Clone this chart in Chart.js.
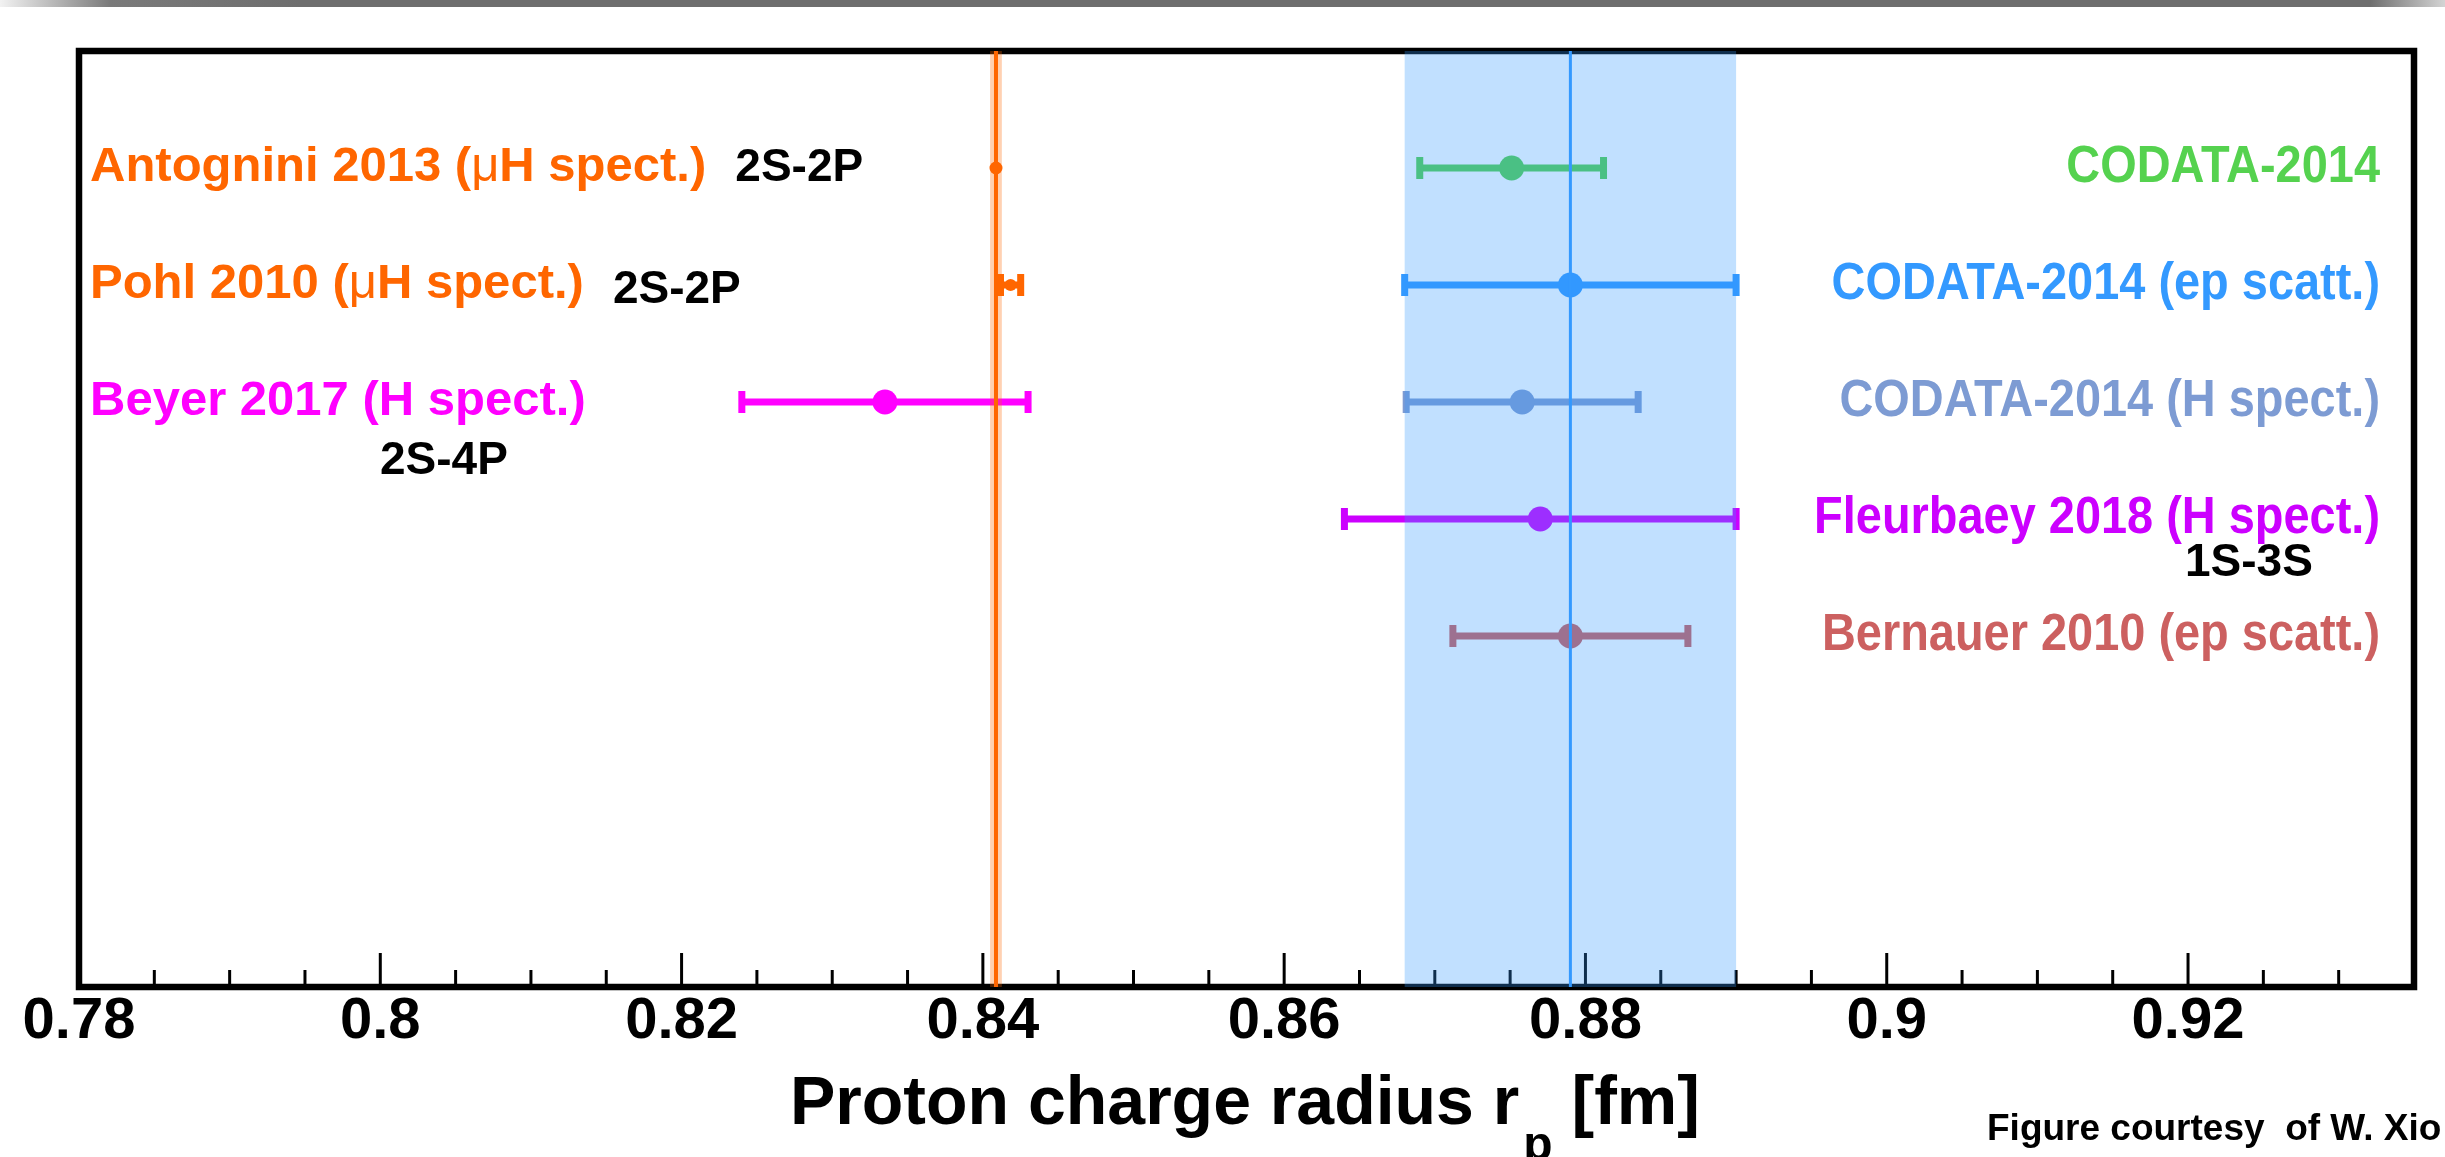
<!DOCTYPE html>
<html><head><meta charset="utf-8">
<script src="https://cdn.jsdelivr.net/npm/chart.js@4.4.1/dist/chart.umd.min.js"></script>
<style>
html,body{margin:0;padding:0;background:#fff;overflow:hidden;}
#wrap{position:relative;width:2445px;height:1157px;}
#topbar{position:absolute;left:0;top:0;width:2445px;height:7px;background:linear-gradient(to right,#f2f2f2 0px,#7a7a7a 110px,#6e6e6e 300px,#6e6e6e 2370px,#d4d4d4 2445px);}
canvas{position:absolute;left:0;top:0;}
</style></head><body>
<div id="wrap"><canvas id="c" width="2445" height="1157"></canvas><div id="topbar"></div></div>
<script>
const FONT = '"Liberation Sans", Arial, Helvetica, sans-serif';

// Left side: muonic / H spectroscopy results
const leftNames = ['Antognini 2013 (μH spect.)', 'Pohl 2010 (μH spect.)', 'Beyer 2017 (H spect.)'];
const leftValues = [0.84087, 0.84184, 0.8335];
const leftErrors = [0.00039, 0.00067, 0.0095];
const leftRows = [1, 2, 3];
const leftTransitions = ['2S-2P', '2S-2P', '2S-4P'];
const leftColors = ['#FF6600', '#FF6600', '#FF00FF'];
const leftRadii = [6.5, 6, 12.5];

// Right side: CODATA / scattering / Fleurbaey
const rightNames = ['CODATA-2014', 'CODATA-2014 (ep scatt.)', 'CODATA-2014 (H spect.)', 'Fleurbaey 2018 (H spect.)', 'Bernauer 2010 (ep scatt.)'];
const rightValues = [0.8751, 0.879, 0.8758, 0.877, 0.879];
const rightErrors = [0.0061, 0.011, 0.0077, 0.013, 0.0078];
const rightRows = [1, 2, 3, 4, 5];
const rightTransitions = ['', '', '', '1S-3S', ''];
const rightColors = ['#55D24F', '#3399FF', '#7D9BD3', '#CC00FF', '#CC6060'];
const rightRadii = [12.5, 12.5, 12.5, 12.5, 12.5];

// Reference bands
const muonicBand = [0.84087, 0.00039];
const epBand = [0.879, 0.011];

// Axis ticks
const tickValues = [0.78, 0.80, 0.82, 0.84, 0.86, 0.88, 0.90, 0.92];
const tickLabels = ['0.78', '0.8', '0.82', '0.84', '0.86', '0.88', '0.9', '0.92'];
const minorStep = 0.005;

const errs = [leftErrors, rightErrors];
const cols = [leftColors, rightColors];
const radii = [leftRadii, rightRadii];

const errorBars = {
  id: 'errorBars',
  beforeDatasetsDraw(chart) {
    const ctx = chart.ctx, a = chart.chartArea, xs = chart.scales.x;
    ctx.save();
    // frame
    ctx.strokeStyle = '#000'; ctx.lineWidth = 6.5;
    ctx.strokeRect(a.left, a.top, a.right - a.left, a.bottom - a.top);
    // ticks
    ctx.lineWidth = 3;
    const lo = xs.min, hi = xs.max;
    const n = Math.round((hi - lo) / minorStep);
    for (let k = 1; k <= n; k++) {
      const v = lo + k * minorStep;
      const px = xs.getPixelForValue(v);
      if (px >= a.right - 3) continue;
      const major = tickValues.some(t => Math.abs(t - v) < 1e-6);
      ctx.beginPath();
      ctx.moveTo(px, a.bottom);
      ctx.lineTo(px, a.bottom - (major ? 34 : 17));
      ctx.stroke();
    }
    // error bars
    chart.data.datasets.forEach((ds, i) => {
      const meta = chart.getDatasetMeta(i);
      meta.data.forEach((pt, j) => {
        const v = ds.data[j].x, e = errs[i][j];
        const x0 = xs.getPixelForValue(v - e), x1 = xs.getPixelForValue(v + e);
        const y = pt.y;
        ctx.fillStyle = cols[i][j];
        if ((x1 - x0) / 2 <= radii[i][j] + 1) return;
        ctx.fillRect(x0, y - 3.5, x1 - x0, 7);
        ctx.fillRect(x0 - 3.5, y - 11, 7, 22);
        ctx.fillRect(x1 - 3.5, y - 11, 7, 22);
      });
    });
    ctx.restore();
  },
  afterDatasetsDraw(chart) {
    const ctx = chart.ctx, a = chart.chartArea, xs = chart.scales.x, ys = chart.scales.y;
    ctx.save();
    // bands on top
    const bx0 = xs.getPixelForValue(epBand[0] - epBand[1]);
    const bx1 = xs.getPixelForValue(epBand[0] + epBand[1]);
    ctx.fillStyle = 'rgba(51,153,255,0.3)';
    ctx.fillRect(bx0, a.top, bx1 - bx0, a.bottom - a.top);
    const ox0 = xs.getPixelForValue(muonicBand[0] - muonicBand[1]);
    const ox1 = xs.getPixelForValue(muonicBand[0] + muonicBand[1]);
    ctx.fillStyle = 'rgba(255,102,0,0.3)';
    ctx.fillRect(ox0, a.top, ox1 - ox0, a.bottom - a.top);
    ctx.strokeStyle = '#FF6600'; ctx.lineWidth = 4;
    let px = xs.getPixelForValue(muonicBand[0]);
    ctx.beginPath(); ctx.moveTo(px, a.top); ctx.lineTo(px, a.bottom); ctx.stroke();
    ctx.strokeStyle = '#3399FF'; ctx.lineWidth = 3;
    px = xs.getPixelForValue(epBand[0]);
    ctx.beginPath(); ctx.moveTo(px, a.top); ctx.lineTo(px, a.bottom); ctx.stroke();

    // left labels
    ctx.textBaseline = 'alphabetic';
    ctx.textAlign = 'left';
    leftNames.forEach((name, j) => {
      const y = ys.getPixelForValue(leftRows[j]) + 12.5;
      let x = 90;
      const parts = name.split('μ');
      ctx.fillStyle = leftColors[j];
      ctx.font = 'bold 49px ' + FONT;
      ctx.fillText(parts[0], x, y); x += ctx.measureText(parts[0]).width;
      if (parts.length > 1) {
        ctx.font = '49px ' + FONT;
        ctx.fillText('μ', x, y); x += ctx.measureText('μ').width;
        ctx.font = 'bold 49px ' + FONT;
        ctx.fillText(parts[1], x, y); x += ctx.measureText(parts[1]).width;
      }
      ctx.fillStyle = '#000';
      ctx.font = 'bold 46px ' + FONT;
      if (j < 2) {
        ctx.fillText(leftTransitions[j], x + 29, y + (j === 1 ? 5 : 0));
      } else {
        ctx.fillText(leftTransitions[j], 380, y + 59);
      }
    });
    // right labels (slightly condensed, taller glyphs)
    rightNames.forEach((name, j) => {
      const y = ys.getPixelForValue(rightRows[j]) + 14;
      ctx.save();
      ctx.translate(2380, y);
      ctx.scale(0.92, 1);
      ctx.textAlign = 'right';
      ctx.fillStyle = rightColors[j];
      ctx.font = 'bold 51px ' + FONT;
      ctx.fillText(name, 0, 0);
      ctx.restore();
      if (rightTransitions[j]) {
        ctx.textAlign = 'left';
        ctx.fillStyle = '#000';
        ctx.font = 'bold 46px ' + FONT;
        ctx.fillText(rightTransitions[j], 2185, y + 43);
      }
    });

    // axis title with subscript
    ctx.textAlign = 'left';
    ctx.fillStyle = '#000';
    let tx = 790;
    ctx.font = 'bold 68px ' + FONT;
    const t1 = 'Proton charge radius r';
    ctx.fillText(t1, tx, 1124); tx += ctx.measureText(t1).width + 4;
    ctx.font = 'bold 48px ' + FONT;
    ctx.fillText('p', tx, 1160); tx += ctx.measureText('p').width;
    ctx.font = 'bold 68px ' + FONT;
    ctx.fillText(' [fm]', tx, 1124);

    // credit
    ctx.font = 'bold 37px ' + FONT;
    ctx.fillText('Figure courtesy  of W. Xio', 1987, 1140);
    ctx.restore();
  }
};

const mkData = (vals, rows) => vals.map((v, i) => ({x: v, y: rows[i]}));

new Chart(document.getElementById('c'), {
  type: 'scatter',
  data: {
    datasets: [
      {label: 'left', data: mkData(leftValues, leftRows), pointBackgroundColor: leftColors,
       pointBorderWidth: 0, pointBorderColor: leftColors, pointRadius: leftRadii, showLine: false},
      {label: 'right', data: mkData(rightValues, rightRows), pointBackgroundColor: rightColors,
       pointBorderWidth: 0, pointBorderColor: rightColors, pointRadius: rightRadii, showLine: false}
    ]
  },
  options: {
    responsive: false,
    animation: false,
    devicePixelRatio: 1,
    layout: {padding: {left: 79, right: 31, top: 51, bottom: 0}},
    plugins: {legend: {display: false}, tooltip: {enabled: false}},
    scales: {
      x: {
        type: 'linear', min: 0.78, max: 0.935, position: 'bottom',
        afterFit: s => { s.height = 170; },
        afterBuildTicks: s => { s.ticks = tickValues.map(v => ({value: v})); },
        border: {display: false},
        grid: {display: false, drawTicks: false},
        ticks: {
          font: {family: FONT, size: 58, weight: 'bold'}, color: '#000', padding: 0,
          maxRotation: 0, minRotation: 0, autoSkip: false, includeBounds: false,
          callback: (v, i) => tickLabels[i]
        }
      },
      y: {type: 'linear', min: 0, max: 8, reverse: true, display: false}
    }
  },
  plugins: [errorBars]
});
</script>
</body></html>
